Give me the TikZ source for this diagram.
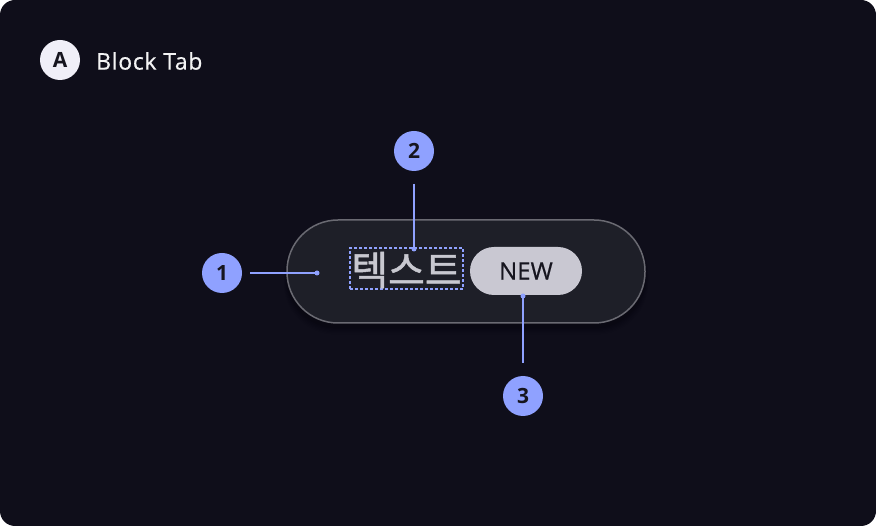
\documentclass[tikz,border=0pt]{standalone}
\usepackage{fontspec}
\setmainfont{Open Sans}
\newfontfamily\kofont{Noto Sans CJK KR}[FakeBold=1.2]
\usetikzlibrary{calc}
\definecolor{bgc}{HTML}{0F0E1A}
\definecolor{pillc}{HTML}{1E1F28}
\definecolor{pillb}{HTML}{6A6A72}
\definecolor{markc}{HTML}{8FA1FF}
\definecolor{badgec}{HTML}{C9C8D2}
\definecolor{darkt}{HTML}{16151F}
\definecolor{kot}{HTML}{C8C8D0}
\definecolor{acirc}{HTML}{F0EFF8}
\tikzset{
  marker/.style={circle,fill=markc,minimum size=40pt,inner sep=0pt,font=\fontsize{21}{24}\selectfont\bfseries,text=darkt},
  leader/.style={draw=markc,line width=1.5pt},
  dotc/.style={circle,fill=markc,minimum size=5pt,inner sep=0pt},
}
\begin{document}
\begin{tikzpicture}[x=1pt,y=-1pt]
\useasboundingbox (0,0) rectangle (876,526);
\fill[white] (0,0) rectangle (876,526);
\fill[bgc,rounded corners=15pt] (0,0) rectangle (876,526);
% header
\node[circle,fill=acirc,minimum size=40pt,inner sep=0pt,font=\fontsize{21}{24}\selectfont\bfseries,text=darkt] (A) at (60,60) {A};
\node[anchor=west,text=white!95!bgc,font=\fontsize{23}{26}\selectfont\addfontfeature{LetterSpace=3,FakeBold=0.4},inner sep=0pt] (title) at (96,61) {Block Tab};
% shadow
\foreach \i/\o in {1/0.06,2/0.05,3/0.04,4/0.03,5/0.02,6/0.015}{
  \fill[black,opacity=\o,rounded corners=51pt] (287-\i*0.5,224-\i*0.2) rectangle (645+\i*0.5,327+\i*1.2);
}
% pill
\node[draw=pillb,line width=1.5pt,fill=pillc,rounded corners=51pt,minimum width=358pt,minimum height=103pt,inner sep=0pt] (pill) at (466,271.5) {};
% text
\node[draw=markc,dashed,dash pattern=on 3pt off 2pt,line width=1.3pt,minimum width=113pt,minimum height=41pt,inner sep=0pt] (tbox) at (406.5,268.5) {};
\node[text=kot,font=\fontsize{40}{44}\selectfont\kofont,inner sep=0pt] (ktext) at (406.5,270) {텍스트};
% badge
\node[fill=badgec,rounded corners=24pt,minimum width=112pt,minimum height=48pt,inner sep=0pt,text=darkt,font=\fontsize{24}{28}\selectfont\addfontfeature{FakeBold=0.6}] (badge) at (526,271) {NEW};
% markers
\node[marker] (m1) at (222,273) {1};
\node[marker] (m2) at (414,151) {2};
\node[marker] (m3) at (523,396) {3};
\coordinate (p1s) at (250,273);
\node[dotc] (d1) at (317,273) {};
\coordinate (p2s) at (414,184);
\node[dotc] (d2) at (414,249) {};
\coordinate (p3s) at (523,363);
\node[dotc] (d3) at (523,296) {};
\draw[leader] (p1s) -- (d1.center);
\draw[leader] (p2s) -- (d2.center);
\draw[leader] (p3s) -- (d3.center);
\end{tikzpicture}
\end{document}
